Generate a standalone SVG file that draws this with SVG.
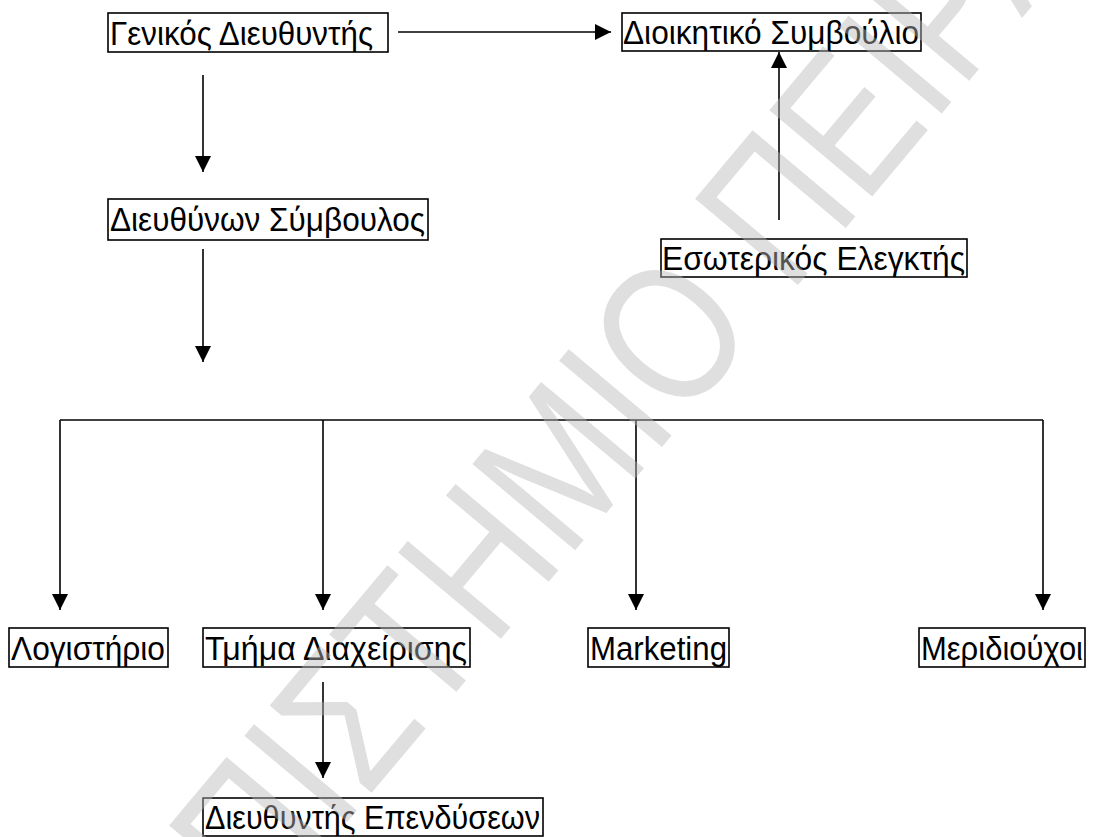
<svg xmlns="http://www.w3.org/2000/svg" width="1093" height="837" viewBox="0 0 1093 837">
<style>
.box{fill:#fff;stroke:#000;stroke-width:1.6}
.lbl{font-family:"Liberation Sans",Arial,sans-serif;font-size:33px;fill:#000}
.ln{stroke:#000;stroke-width:1.6;fill:none}
.wm{font-family:"Liberation Sans",Arial,sans-serif;font-size:195px;fill:#b8b8b8;fill-opacity:0.45}
</style>
<defs>
<marker id="ah" markerWidth="16" markerHeight="16" viewBox="0 0 16 16" refX="16" refY="8" orient="auto" markerUnits="userSpaceOnUse">
<path d="M0,0 L16,8 L0,16 Z" fill="#000"/>
</marker>
</defs>
<rect width="1093" height="837" fill="#fff"/>
<g id="connectors">
<line class="ln" x1="398" y1="32" x2="611" y2="32" marker-end="url(#ah)"/>
<line class="ln" x1="203" y1="75" x2="203" y2="172" marker-end="url(#ah)"/>
<line class="ln" x1="203" y1="249" x2="203" y2="362" marker-end="url(#ah)"/>
<line class="ln" x1="779" y1="220" x2="779" y2="52" marker-end="url(#ah)"/>
<polyline class="ln" points="60,420 1043,420"/>
<line class="ln" x1="60" y1="420" x2="60" y2="610" marker-end="url(#ah)"/>
<line class="ln" x1="323" y1="420" x2="323" y2="610" marker-end="url(#ah)"/>
<line class="ln" x1="636" y1="420" x2="636" y2="610" marker-end="url(#ah)"/>
<line class="ln" x1="1043" y1="420" x2="1043" y2="610" marker-end="url(#ah)"/>
<line class="ln" x1="323" y1="682" x2="323" y2="778" marker-end="url(#ah)"/>
</g>
<g id="n-genikos"><rect class="box" x="108" y="13" width="280" height="39"/><text class="lbl" x="110" y="45" textLength="263" lengthAdjust="spacingAndGlyphs">Γενικός Διευθυντής</text></g>
<g id="n-dioikitiko"><rect class="box" x="622" y="13" width="299" height="38"/><text class="lbl" x="623" y="44" textLength="296" lengthAdjust="spacingAndGlyphs">Διοικητικό Συμβούλιο</text></g>
<g id="n-diefthynon"><rect class="box" x="108" y="199" width="320" height="41"/><text class="lbl" x="110" y="231" textLength="315" lengthAdjust="spacingAndGlyphs">Διευθύνων Σύμβουλος</text></g>
<g id="n-esoterikos"><rect class="box" x="661" y="239" width="306" height="38"/><text class="lbl" x="662" y="270" textLength="303" lengthAdjust="spacingAndGlyphs">Εσωτερικός Ελεγκτής</text></g>
<g id="n-logistirio"><rect class="box" x="9" y="628" width="159" height="39"/><text class="lbl" x="11" y="660" textLength="154" lengthAdjust="spacingAndGlyphs">Λογιστήριο</text></g>
<g id="n-tmima"><rect class="box" x="203" y="628" width="267" height="39"/><text class="lbl" x="205" y="660" textLength="262" lengthAdjust="spacingAndGlyphs">Τμήμα Διαχείρισης</text></g>
<g id="n-marketing"><rect class="box" x="588" y="628" width="141" height="39"/><text class="lbl" x="590" y="660" textLength="137" lengthAdjust="spacingAndGlyphs">Marketing</text></g>
<g id="n-meridiouxoi"><rect class="box" x="919" y="628" width="166" height="39"/><text class="lbl" x="921" y="660" textLength="162" lengthAdjust="spacingAndGlyphs">Μεριδιούχοι</text></g>
<g id="n-ependyseon"><rect class="box" x="203" y="798" width="340" height="38"/><text class="lbl" x="205" y="829" textLength="335" lengthAdjust="spacingAndGlyphs">Διευθυντής Επενδύσεων</text></g>
<g id="watermark"><text class="wm" transform="translate(-22,1262) rotate(-50) scale(0.82,1)">ΠΑΝΕΠΙΣΤΗΜΙΟ ΠΕΙΡΑΙΩΣ</text></g>
</svg>
